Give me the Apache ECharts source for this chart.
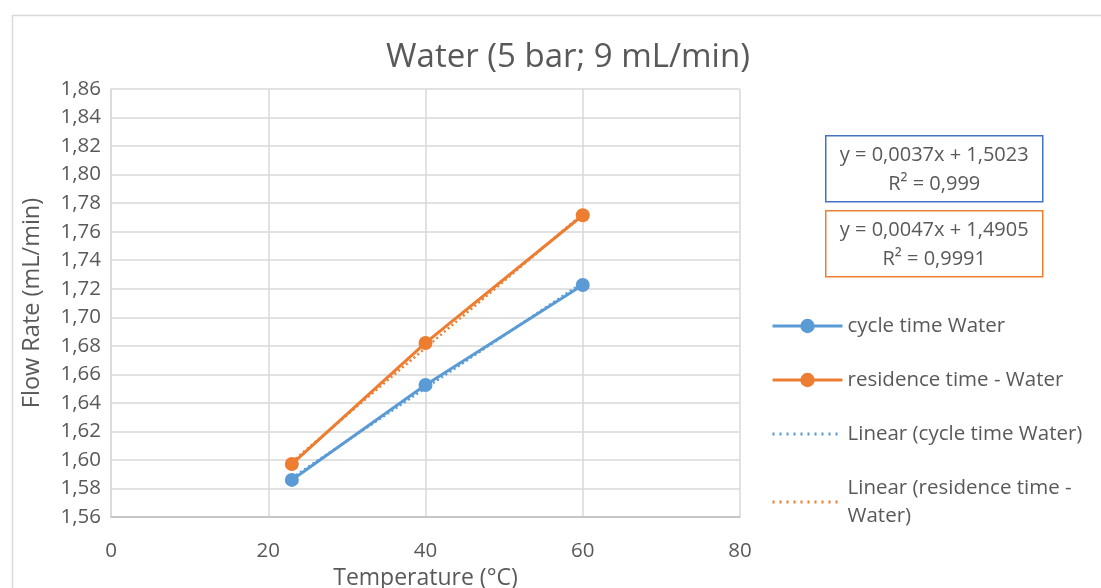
<!DOCTYPE html>
<html>
<head>
<meta charset="utf-8">
<script src="https://cdn.jsdelivr.net/npm/echarts@6/dist/echarts.min.js"></script>
<style>
  html, body { margin: 0; padding: 0; background: #fff; }
  #chart { width: 1101px; height: 588px; }
</style>
</head>
<body>
<div id="chart"></div>
<script>
// temperatures (°C) and measured flow rates (mL/min)
const temps = [23, 40, 60]
const cycleWater = [1.586, 1.6525, 1.7226]
const residenceWater = [1.5971, 1.682, 1.7715]

// trendline endpoints
const trendX = [23, 60]
const cycleTrend = [1.5874, 1.7243]
const residenceTrend = [1.5986, 1.7725]

const equations = [
  ['y = 0,0037x + 1,5023', 'R² = 0,999'],
  ['y = 0,0047x + 1,4905', 'R² = 0,9991']
]

const BLUE = '#5b9bd5'
const ORANGE = '#ed7d31'
const TEXT = '#595959'
const FONT = '"Open Sans", sans-serif'

const pairs = (xs, ys) => xs.map((x, i) => [x, ys[i]])

const chart = echarts.init(document.getElementById('chart'))

// equation label boxes
function eqBox(top, color, lines) {
  return {
    type: 'group',
    left: 825,
    top: top,
    children: [
      {
        type: 'rect',
        shape: { x: 0, y: 0, width: 217, height: 66 },
        style: { fill: '#fff', stroke: color, lineWidth: 1.5 }
      },
      {
        type: 'text',
        x: 108.5,
        y: 34,
        style: {
          text: lines.join('\n'),
          fill: TEXT,
          font: '20px ' + FONT,
          align: 'center',
          verticalAlign: 'middle',
          lineHeight: 29
        }
      }
    ]
  }
}

chart.setOption({
  animation: false,
  textStyle: { fontFamily: FONT },
  title: {
    text: 'Water (5 bar; 9 mL/min)',
    left: 563,
    top: 36,
    textAlign: 'center',
    textStyle: { color: TEXT, fontSize: 33, fontWeight: 'normal', fontFamily: FONT }
  },
  graphic: [
    {
      type: 'rect',
      left: 10,
      top: 13,
      silent: true,
      z: -10,
      shape: { x: 0, y: 0, width: 1110, height: 600 },
      style: { fill: 'none', stroke: '#d9d9d9', lineWidth: 1.5 }
    },
    eqBox(135, '#4472c4', equations[0]),
    eqBox(210, ORANGE, equations[1])
  ],
  grid: { left: 111, top: 89, width: 629, height: 428, containLabel: false, outerBoundsMode: 'none' },
  legend: {
    orient: 'vertical',
    left: 766,
    top: 307,
    itemWidth: 70,
    itemHeight: 18,
    itemGap: 26,
    textStyle: { color: TEXT, fontSize: 20.5, fontFamily: FONT, lineHeight: 28 },
    formatter: name => name === 'Linear (residence time - Water)'
      ? 'Linear (residence time -\nWater)' : name,
    data: [
      { name: 'cycle time Water', lineStyle: { width: 3 } },
      { name: 'residence time - Water', lineStyle: { width: 3 } },
      { name: 'Linear (cycle time Water)', itemStyle: { opacity: 0 }, lineStyle: { width: 3, type: [2, 5] } },
      { name: 'Linear (residence time - Water)', itemStyle: { opacity: 0 }, lineStyle: { width: 3, type: [2, 5] } }
    ]
  },
  xAxis: {
    type: 'value',
    min: 0,
    max: 80,
    interval: 20,
    name: 'Temperature (°C)',
    nameLocation: 'middle',
    nameGap: 50,
    nameTextStyle: { color: TEXT, fontSize: 23 },
    axisLine: { lineStyle: { color: '#bfbfbf', width: 1.5 } },
    axisTick: { show: false },
    axisLabel: { color: TEXT, fontSize: 20.5, margin: 24 },
    splitLine: { lineStyle: { color: '#d9d9d9', width: 1.5 } }
  },
  yAxis: {
    type: 'value',
    min: 1.56,
    max: 1.86,
    interval: 0.02,
    name: 'Flow Rate (mL/min)',
    nameLocation: 'middle',
    nameGap: 67,
    nameTextStyle: { color: TEXT, fontSize: 23.5 },
    axisLine: { show: true, lineStyle: { color: '#d9d9d9', width: 1.5 } },
    axisTick: { show: false },
    axisLabel: {
      color: TEXT,
      fontSize: 20.5,
      margin: 10,
      formatter: v => v.toFixed(2).replace('.', ',')
    },
    splitLine: { lineStyle: { color: '#d9d9d9', width: 1.5 } }
  },
  series: [
    {
      name: 'Linear (cycle time Water)',
      type: 'line',
      data: pairs(trendX, cycleTrend),
      symbol: 'none',
      lineStyle: { color: BLUE, width: 2.5, type: [2, 3] },
      itemStyle: { color: BLUE },
      z: 1
    },
    {
      name: 'Linear (residence time - Water)',
      type: 'line',
      data: pairs(trendX, residenceTrend),
      symbol: 'none',
      lineStyle: { color: ORANGE, width: 2.5, type: [2, 3] },
      itemStyle: { color: ORANGE },
      z: 1
    },
    {
      name: 'cycle time Water',
      type: 'line',
      data: pairs(temps, cycleWater),
      symbol: 'circle',
      symbolSize: 14,
      lineStyle: { color: BLUE, width: 3 },
      itemStyle: { color: BLUE },
      z: 3
    },
    {
      name: 'residence time - Water',
      type: 'line',
      data: pairs(temps, residenceWater),
      symbol: 'circle',
      symbolSize: 14,
      lineStyle: { color: ORANGE, width: 3 },
      itemStyle: { color: ORANGE },
      z: 3
    }
  ]
})
</script>
</body>
</html>
